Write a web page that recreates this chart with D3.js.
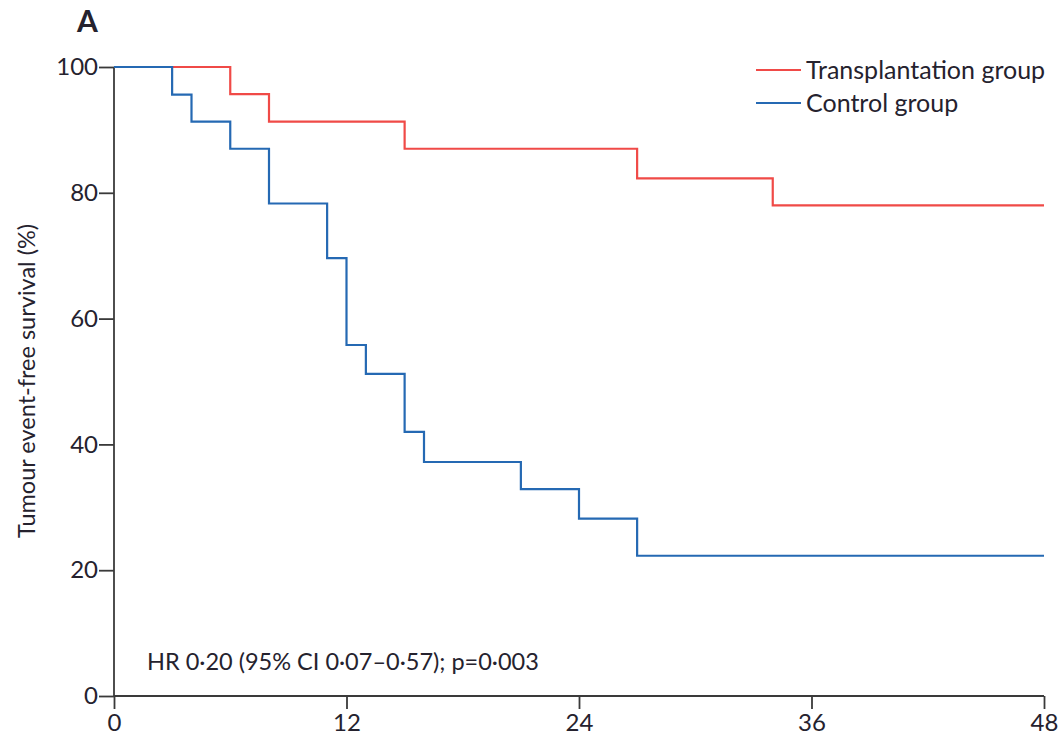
<!DOCTYPE html>
<html>
<head>
<meta charset="utf-8">
<script src="https://cdn.jsdelivr.net/npm/d3@7"></script>
<style>
  body { margin: 0; background: #fff; }
  text { font-family: Lato, "Open Sans", sans-serif; fill: #25222e; }
</style>
</head>
<body>
<div id="chart"></div>
<script>
// months since randomisation and tumour event-free survival (%)
const transplantTimes = [0, 6, 8, 15, 27, 34, 48];
const transplantSurvival = [100, 95.7, 91.3, 87.0, 82.3, 78.0, 78.0];
const controlTimes = [0, 3, 4, 6, 8, 11, 12, 13, 15, 16, 21, 24, 27, 48];
const controlSurvival = [100, 95.6, 91.3, 87.0, 78.3, 69.6, 55.8, 51.2, 42.0, 37.2, 32.9, 28.2, 22.3, 22.3];
const xTicks = [0, 12, 24, 36, 48];
const yTicks = [0, 20, 40, 60, 80, 100];
const seriesNames = ["Transplantation group", "Control group"];
const seriesColors = ["#f04a47", "#2569b3"];

const width = 1061, height = 738;
const margin = {left: 114, top: 67, right: 17, bottom: 42};

const svg = d3.select("#chart")
  .append("svg")
  .attr("width", width)
  .attr("height", height);

const x = d3.scaleLinear()
  .domain([0, 48])
  .range([margin.left, width - margin.right]);
const y = d3.scaleLinear()
  .domain([0, 100])
  .range([height - margin.bottom, margin.top]);

// axes
const xAxis = svg.append("g")
  .attr("transform", `translate(0,${y(0)})`)
  .call(d3.axisBottom(x).tickValues(xTicks).tickSize(13).tickPadding(5));
const yAxis = svg.append("g")
  .attr("transform", `translate(${x(0)},0)`)
  .call(d3.axisLeft(y).tickValues(yTicks).tickSize(15).tickPadding(1));

[xAxis, yAxis].forEach(g => {
  g.selectAll(".domain").attr("stroke", "#3a3a3a").attr("stroke-width", 1.8);
  g.selectAll(".tick line").attr("stroke", "#3a3a3a").attr("stroke-width", 1.8);
  g.selectAll(".tick text")
    .style("font-family", "Lato, sans-serif")
    .attr("font-size", 24)
    .attr("fill", "#25222e");
});
// y axis domain without outer ticks
yAxis.select(".domain").attr("d", `M0,${y(0)}V${y(100)}`);
xAxis.select(".domain").attr("d", `M${x(0)},0H${x(48)}`);

// survival curves
const line = d3.line()
  .x(d => x(d[0]))
  .y(d => y(d[1]))
  .curve(d3.curveStepAfter);

const series = [
  d3.zip(transplantTimes, transplantSurvival),
  d3.zip(controlTimes, controlSurvival)
];

svg.selectAll("path.km")
  .data(series)
  .enter()
  .append("path")
  .attr("class", "km")
  .attr("d", line)
  .attr("fill", "none")
  .attr("stroke", (d, i) => seriesColors[i])
  .attr("stroke-width", 2.2);

// legend
const legend = svg.append("g");
seriesNames.forEach((name, i) => {
  const ly = 70 + i * 33;
  legend.append("line")
    .attr("x1", 756).attr("x2", 801)
    .attr("y1", ly).attr("y2", ly)
    .attr("stroke", seriesColors[i])
    .attr("stroke-width", 2);
  legend.append("text")
    .attr("x", 806)
    .attr("y", ly + 9)
    .attr("font-size", 25)
    .text(name);
});

// panel letter
svg.append("text")
  .attr("x", 77)
  .attr("y", 32)
  .attr("font-size", 30)
  .attr("font-weight", "bold")
  .text("A");

// y axis title
svg.append("text")
  .attr("transform", "translate(35,381) rotate(-90)")
  .attr("text-anchor", "middle")
  .attr("font-size", 23.5)
  .text("Tumour event-free survival (%)");

// hazard ratio note
svg.append("text")
  .attr("x", 147)
  .attr("y", 670)
  .attr("font-size", 23.5)
  .text("HR 0·20 (95% CI 0·07–0·57); p=0·003");
</script>
</body>
</html>
